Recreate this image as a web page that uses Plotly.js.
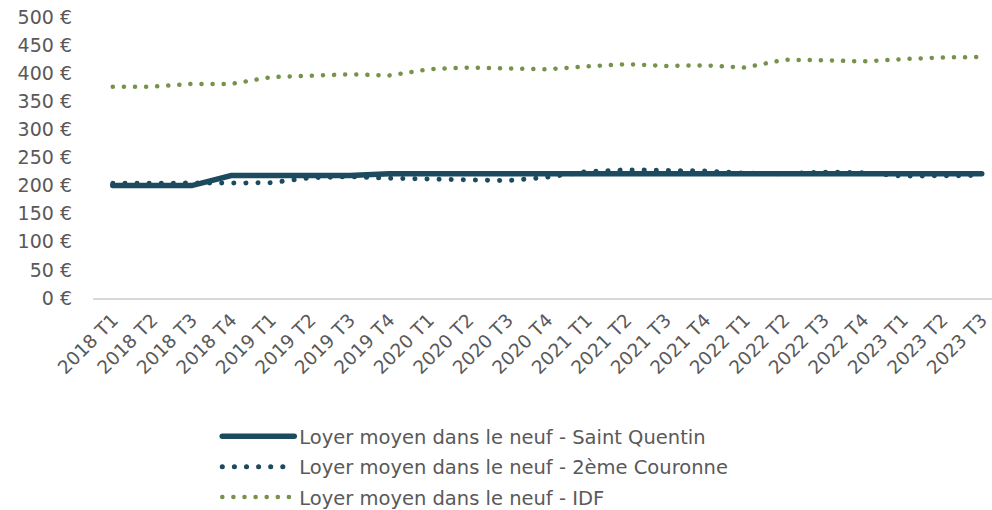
<!DOCTYPE html>
<html>
<head>
<meta charset="utf-8">
<script src="https://cdn.plot.ly/plotly-3.0.1.min.js"></script>
<style>
html,body{margin:0;padding:0;background:#fff;}
#chart{width:992px;height:510px;}
.scatterlayer .js-line, .legendlines path{stroke-linecap:round;}
</style>
</head>
<body>
<div id="chart"></div>
<script>
const categories = ["2018 T1","2018 T2","2018 T3","2018 T4","2019 T1","2019 T2","2019 T3","2019 T4",
  "2020 T1","2020 T2","2020 T3","2020 T4","2021 T1","2021 T2","2021 T3","2021 T4",
  "2022 T1","2022 T2","2022 T3","2022 T4","2023 T1","2023 T2","2023 T3"];
const saintQuentin = [200,200,200,218,218,218,218,221,221,221,221,221,221,221,221,221,221,221,221,221,221,221,221];
const couronne2 = [204,204,204,205,205,214,216,213,212,212,209,215,225,228,228,226,222,221,224,223,217,218,218];
const idf = [376,376,381,381,393,395,398,396,407,410,409,407,412,416,413,414,410,424,423,421,425,428,429];

const names = ["Loyer moyen dans le neuf - Saint Quentin","Loyer moyen dans le neuf - 2ème Couronne","Loyer moyen dans le neuf - IDF"];
const navy = "#1c4a5e", green = "#77924a";
const font = "DejaVu Sans, sans-serif";

const traces = [
  {x: categories, y: couronne2, name: names[1], type: "scatter", mode: "lines", legendrank: 2, legendgroup: "b",
   line: {color: navy, width: 5, dash: "0.1px,12px"}},
  {x: categories, y: saintQuentin, name: names[0], type: "scatter", mode: "lines", legendrank: 1, legendgroup: "a",
   line: {color: navy, width: 5.5}},
  {x: categories, y: idf, name: names[2], type: "scatter", mode: "lines", legendrank: 3, legendgroup: "c",
   line: {color: green, width: 4.5, dash: "0.1px,11px"}}
];

const layout = {
  width: 992, height: 510,
  margin: {l: 93, r: 0, t: 17, b: 212, autoexpand: false},
  paper_bgcolor: "#fff", plot_bgcolor: "#fff",
  font: {family: font, size: 18, color: "#595959"},
  showlegend: true,
  legend: {orientation: "v", xref: "container", yref: "container", x: 0.219, xanchor: "left",
    y: 0.182, yanchor: "top", itemwidth: 72, tracegroupgap: 2,
    font: {family: font, size: 19.5, color: "#595959"},
    traceorder: "grouped", bgcolor: "rgba(0,0,0,0)"},
  xaxis: {type: "category", range: [-0.5, 22.26], dtick: 1, tickangle: -45, showgrid: false, zeroline: false,
    showline: true, linecolor: "#d9d9d9", linewidth: 2, ticks: "", ticklabelstandoff: 2,
    tickfont: {family: font, size: 18.5, color: "#595959"}},
  yaxis: {range: [0, 500], dtick: 50, tick0: 0, showgrid: false, zeroline: false, showline: false,
    ticksuffix: " €", ticks: "", ticklabelstandoff: 20, tickfont: {family: font, size: 19, color: "#595959"}}
};

Plotly.newPlot("chart", traces, layout, {displayModeBar: false, staticPlot: true});
</script>
</body>
</html>
